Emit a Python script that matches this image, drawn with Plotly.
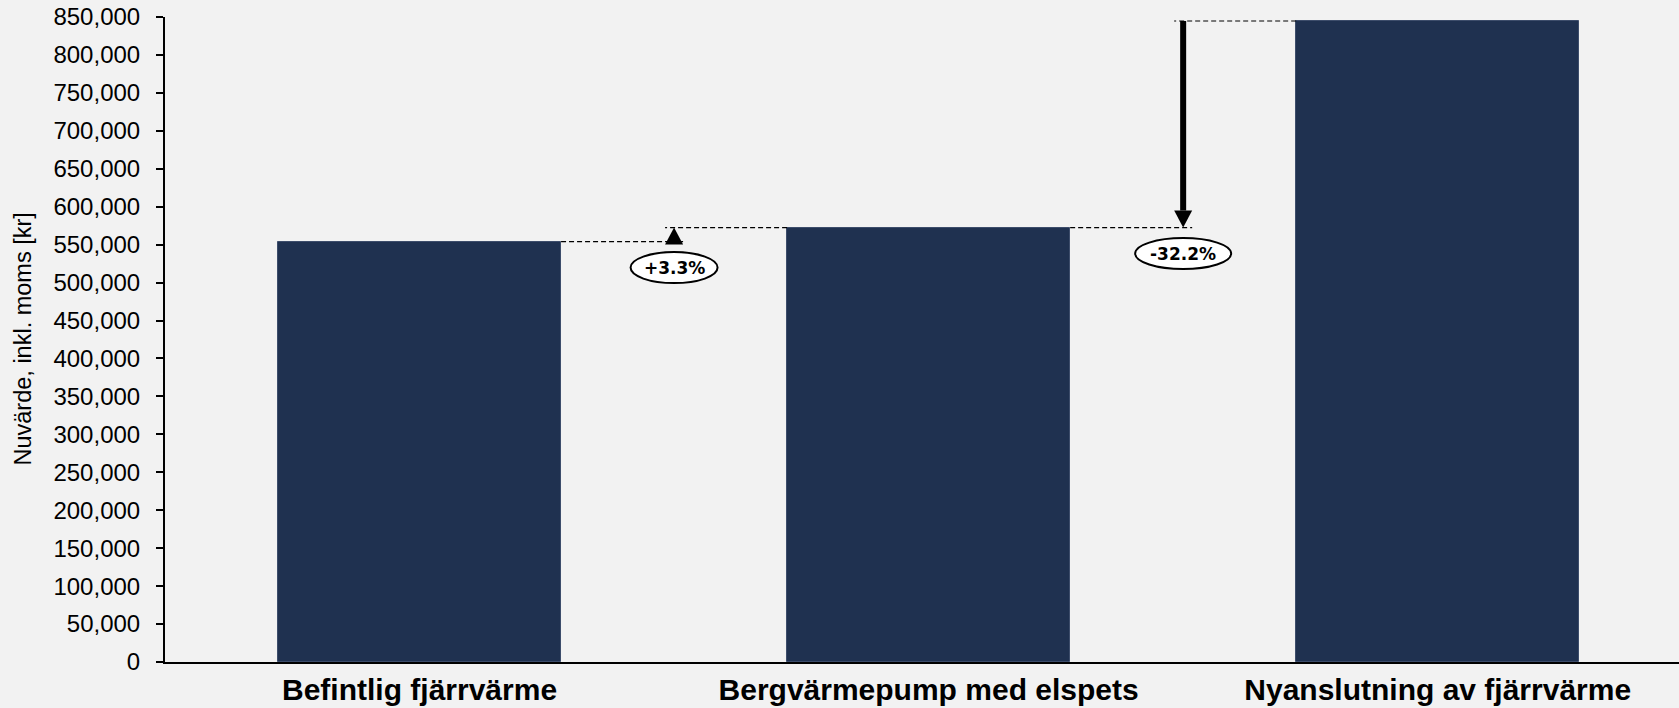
import plotly.graph_objects as go

categories = ["Befintlig fjärrvärme", "Bergvärmepump med elspets", "Nyanslutning av fjärrvärme"]
values = [554000, 572500, 844700]
# comparisons: (from bar index, to bar index) -> arrow points to the "to" bar level
comparisons = [(0, 1), (2, 1)]

y_range = [0, 850000]
y_dtick = 50000
x_range = [-0.5, 2.474]

W, H = 1679, 708
M = dict(l=165, r=0, t=17, b=46)
plot_w = W - M["l"] - M["r"]
plot_h = H - M["t"] - M["b"]
px_x = (x_range[1] - x_range[0]) / plot_w   # data units per pixel (x)
px_y = (y_range[1] - y_range[0]) / plot_h   # data units per pixel (y)

bar_w = 0.556
bar_color = "#1f3150"
head_h, head_w = 17, 18
overshoot = 9

fig = go.Figure()
fig.add_trace(go.Bar(
    x=list(range(len(categories))), y=values, width=bar_w,
    marker=dict(color=bar_color, line=dict(color="#3d4d6b", width=1)),
    hoverinfo="skip", showlegend=False,
))

shapes = []
annotations = []
for a, b in comparisons:
    va, vb = values[a], values[b]
    m = (a + b) / 2
    # dashed level lines
    for idx in (a, b):
        edge = idx + bar_w / 2 if idx < m else idx - bar_w / 2
        far = m + overshoot * px_x if idx < m else m - overshoot * px_x
        shapes.append(dict(type="line", xref="x", yref="y", x0=edge, x1=far,
                           y0=values[idx], y1=values[idx],
                           line=dict(color="black", width=1.2, dash="5px,3px"), layer="above"))
    up = vb > va
    sgn = -1 if up else 1  # base of head relative to tip (pixels, + is up)
    # shaft
    shaft_end = vb + sgn * head_h * px_y
    if (up and shaft_end > va) or ((not up) and shaft_end < va):
        shapes.append(dict(type="line", xref="x", yref="y", x0=m, x1=m, y0=va, y1=shaft_end,
                           line=dict(color="black", width=6), layer="above"))
    # head
    shapes.append(dict(type="path", xref="x", yref="y",
                       xsizemode="pixel", xanchor=m, ysizemode="pixel", yanchor=vb,
                       path=f"M {-head_w/2},{sgn*head_h} L {head_w/2},{sgn*head_h} L 0,0 Z",
                       fillcolor="black", line=dict(color="black", width=0), layer="above"))
    # label
    pct = (vb / va - 1) * 100
    txt = f"{pct:+.1f}%"
    low = min(va, vb)
    ew = 42 + 9 * len(txt)
    shapes.append(dict(type="circle", xref="x", yref="y",
                       xsizemode="pixel", xanchor=m, x0=-ew / 2, x1=ew / 2,
                       ysizemode="pixel", yanchor=low, y0=-26 - 15.5, y1=-26 + 15.5,
                       fillcolor="white", line=dict(color="black", width=2), layer="above"))
    annotations.append(dict(x=m, y=low, xref="x", yref="y", yshift=-26, text=f"<b>{txt}</b>",
                            showarrow=False, xanchor="center", yanchor="middle",
                            font=dict(family="DejaVu Sans", size=17, color="black")))

annotations.append(dict(xref="paper", yref="paper", x=0, y=0.5, xshift=22 - M["l"],
                        text="Nuvärde, inkl. moms [kr]", textangle=-90, showarrow=False,
                        xanchor="center", yanchor="middle",
                        font=dict(family="Liberation Sans, Arial", size=23.5, color="black")))

fig.update_layout(
    width=W, height=H, margin=M,
    paper_bgcolor="#f2f2f2", plot_bgcolor="#f2f2f2",
    shapes=shapes, annotations=annotations,
    font=dict(family="Liberation Sans, Arial", color="black"),
    bargap=0,
)
fig.update_xaxes(
    range=x_range, tickmode="array", tickvals=list(range(len(categories))),
    ticktext=[f"<b>{c}</b>" for c in categories],
    tickfont=dict(size=30, family="Liberation Sans, Arial", color="black"),
    showline=True, linecolor="black", linewidth=2, ticks="", showgrid=False, zeroline=False,
    fixedrange=True,
)
fig.update_yaxes(
    range=y_range, dtick=y_dtick, tickformat=",", showgrid=False, zeroline=False,
    showline=True, linecolor="black", linewidth=2,
    ticks="outside", ticklen=7, tickwidth=2, tickcolor="black",
    tickfont=dict(size=24, family="Liberation Sans, Arial", color="black"),
    ticklabelstandoff=11,
    fixedrange=True,
)

fig.write_html("out.html", config={"displayModeBar": False},
               post_script="document.body.style.margin='0';document.body.style.background='#f2f2f2';")
